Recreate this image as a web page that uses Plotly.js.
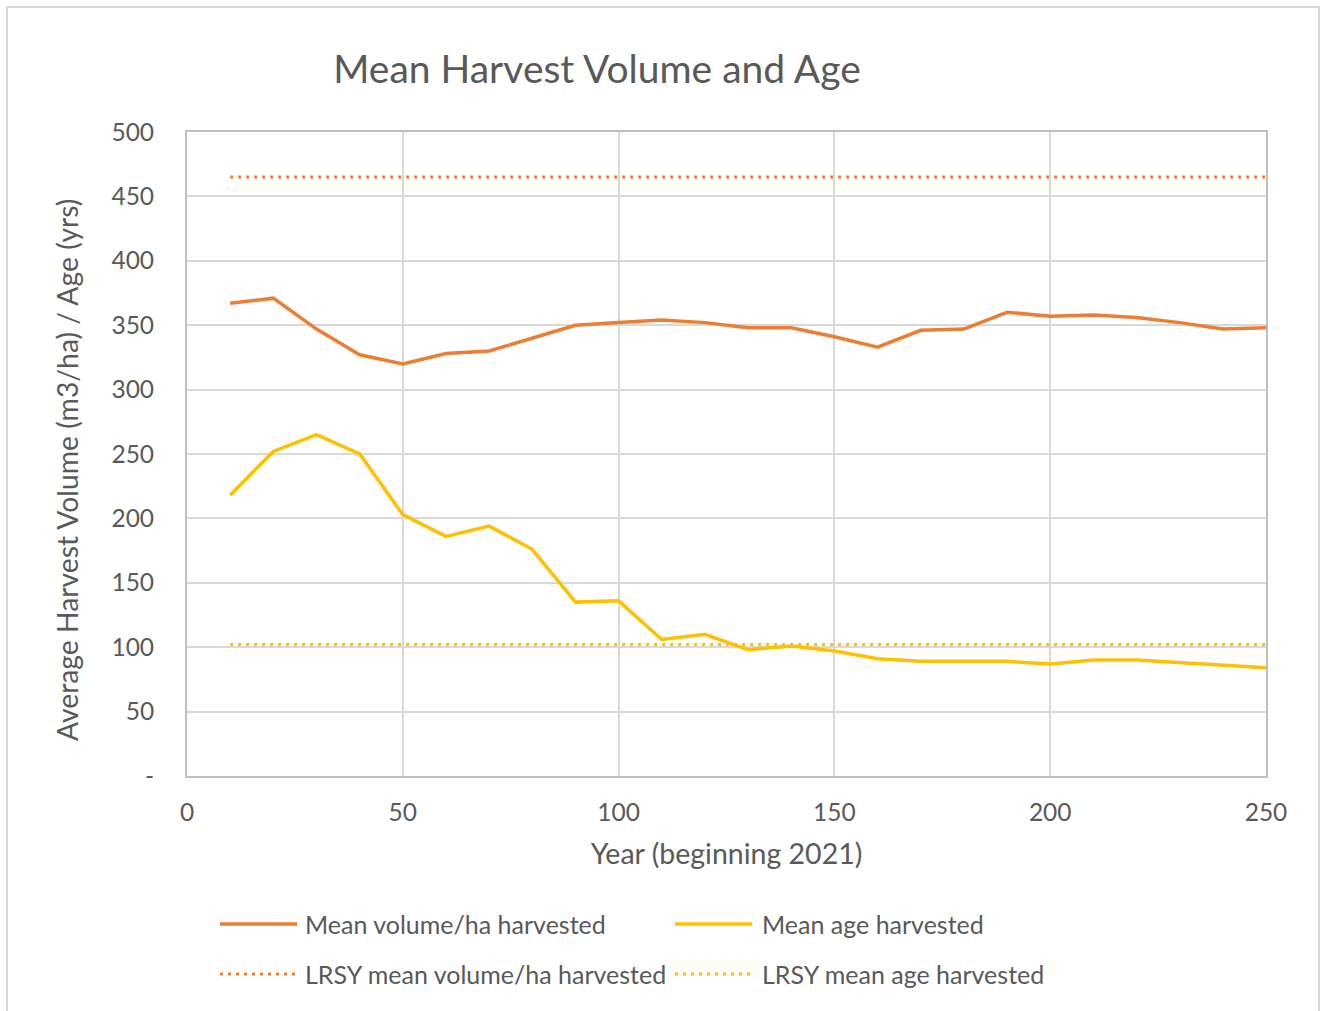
<!DOCTYPE html>
<html>
<head>
<meta charset="utf-8">
<script src="https://cdn.plot.ly/plotly-3.0.1.min.js"></script>
<style>
  html, body { margin: 0; padding: 0; background: #ffffff; }
  #frame {
    position: absolute; left: 6px; top: 6px; width: 1314px; height: 1010px;
    border: 2px solid #d9d9d9; box-sizing: border-box; border-bottom: none;
  }
  #chart { position: absolute; left: 0; top: 0; width: 1323px; height: 1011px; }
</style>
</head>
<body>
<div id="frame"></div>
<div id="chart"></div>
<script>
// Simulation years (offset from 2021)
const years = [10, 20, 30, 40, 50, 60, 70, 80, 90, 100, 110, 120, 130,
               140, 150, 160, 170, 180, 190, 200, 210, 220, 230, 240, 250];

// Mean volume harvested per hectare (m3/ha)
const meanVolume = [367, 371, 347, 327, 320, 328, 330, 340, 350, 352, 354, 352, 348,
                    348, 341, 333, 346, 347, 360, 357, 358, 356, 352, 347, 348];

// Mean age of harvested stands (yrs)
const meanAge = [218, 252, 265, 250, 203, 186, 194, 176, 135, 136, 106, 110, 98,
                 101, 97, 91, 89, 89, 89, 87, 90, 90, 88, 86, 84];

// Long-run sustained yield reference levels
const lrsyVolume = 465;
const lrsyAge = 102;

const seriesNames = ["Mean volume/ha harvested", "Mean age harvested",
                     "LRSY mean volume/ha harvested", "LRSY mean age harvested"];

const yTickVals = [0, 50, 100, 150, 200, 250, 300, 350, 400, 450, 500];
const yTickText = ["-", "50", "100", "150", "200", "250", "300", "350", "400", "450", "500"];

const yAxisTitle = "Average Harvest Volume (m3/ha) / Age (yrs)";

const ORANGE = "#ED7D31";
const GOLD = "#FFC000";
const TEXT = "#595959";
const FONT = "Lato, 'Open Sans', sans-serif";
const DOTS = "3px,5px";

const traces = [
  { x: years, y: meanVolume, name: seriesNames[0], mode: "lines",
    line: { color: ORANGE, width: 3.5 } },
  { x: years, y: meanAge, name: seriesNames[1], mode: "lines",
    line: { color: GOLD, width: 3.5 } },
  { x: years, y: years.map(() => lrsyVolume), name: seriesNames[2], mode: "lines",
    line: { color: ORANGE, width: 3, dash: DOTS } },
  { x: years, y: years.map(() => lrsyAge), name: seriesNames[3], mode: "lines",
    line: { color: GOLD, width: 3, dash: DOTS } }
];

// Plot box in pixels, used to place the hand-built legend and the y title
const W = 1323, H = 1011;
const M = { l: 187, r: 57, t: 132, b: 235 };
const plotW = W - M.l - M.r, plotH = H - M.t - M.b;
const px = v => (v - M.l) / plotW;
const py = v => (H - M.b - v) / plotH;

const legendRows = [924, 974];
const legendCols = [{ x0: 220, x1: 297, tx: 303 }, { x0: 675, x1: 752, tx: 760 }];
const legendItems = [
  { row: 0, col: 0, color: ORANGE, dash: "solid", w: 3.5 },
  { row: 0, col: 1, color: GOLD, dash: "solid", w: 3.5 },
  { row: 1, col: 0, color: ORANGE, dash: DOTS, w: 3 },
  { row: 1, col: 1, color: GOLD, dash: DOTS, w: 3 }
];

const shapes = [];
const annotations = [];
legendItems.forEach((it, i) => {
  const c = legendCols[it.col];
  const yy = py(legendRows[it.row]);
  shapes.push({ type: "line", xref: "paper", yref: "paper",
    x0: px(c.x0), x1: px(c.x1), y0: yy, y1: yy,
    line: { color: it.color, width: it.w, dash: it.dash } });
  annotations.push({ xref: "paper", yref: "paper", x: px(c.tx), y: yy,
    xanchor: "left", yanchor: "middle", showarrow: false, text: seriesNames[i],
    font: { family: FONT, size: 25, color: TEXT } });
});

// Vertical axis title, set a little below the plot's middle
annotations.push({ xref: "paper", yref: "paper", x: px(67), y: py(470),
  xanchor: "center", yanchor: "middle", showarrow: false, textangle: -90,
  text: yAxisTitle, font: { family: FONT, size: 28.3, color: TEXT } });

const layout = {
  width: W, height: H,
  margin: M,
  paper_bgcolor: "rgba(0,0,0,0)",
  plot_bgcolor: "#ffffff",
  showlegend: false,
  font: { family: FONT, color: TEXT, size: 24 },
  title: {
    text: "Mean Harvest Volume and Age",
    font: { family: FONT, size: 39, color: TEXT },
    xref: "container", yref: "container",
    x: 597 / W, y: 1 - 69 / H, xanchor: "center", yanchor: "middle"
  },
  xaxis: {
    range: [0, 250], tickvals: [0, 50, 100, 150, 200, 250],
    showgrid: true, gridcolor: "#d9d9d9", gridwidth: 2,
    showline: true, linecolor: "#bfbfbf", linewidth: 2, mirror: true,
    zeroline: false,
    ticks: "outside", ticklen: 14, tickcolor: "rgba(0,0,0,0)",
    tickfont: { family: FONT, size: 24.5, color: TEXT },
    title: { text: "Year (beginning 2021)", standoff: 19,
             font: { family: FONT, size: 28.5, color: TEXT } }
  },
  yaxis: {
    range: [0, 500], tickvals: yTickVals, ticktext: yTickText,
    showgrid: true, gridcolor: "#d9d9d9", gridwidth: 2,
    showline: true, linecolor: "#bfbfbf", linewidth: 2, mirror: true,
    zeroline: false,
    ticks: "outside", ticklen: 26, tickcolor: "rgba(0,0,0,0)",
    tickfont: { family: FONT, size: 24.5, color: TEXT }
  },
  shapes: shapes,
  annotations: annotations
};

Plotly.newPlot("chart", traces, layout, { displayModeBar: false, staticPlot: true });
</script>
</body>
</html>
